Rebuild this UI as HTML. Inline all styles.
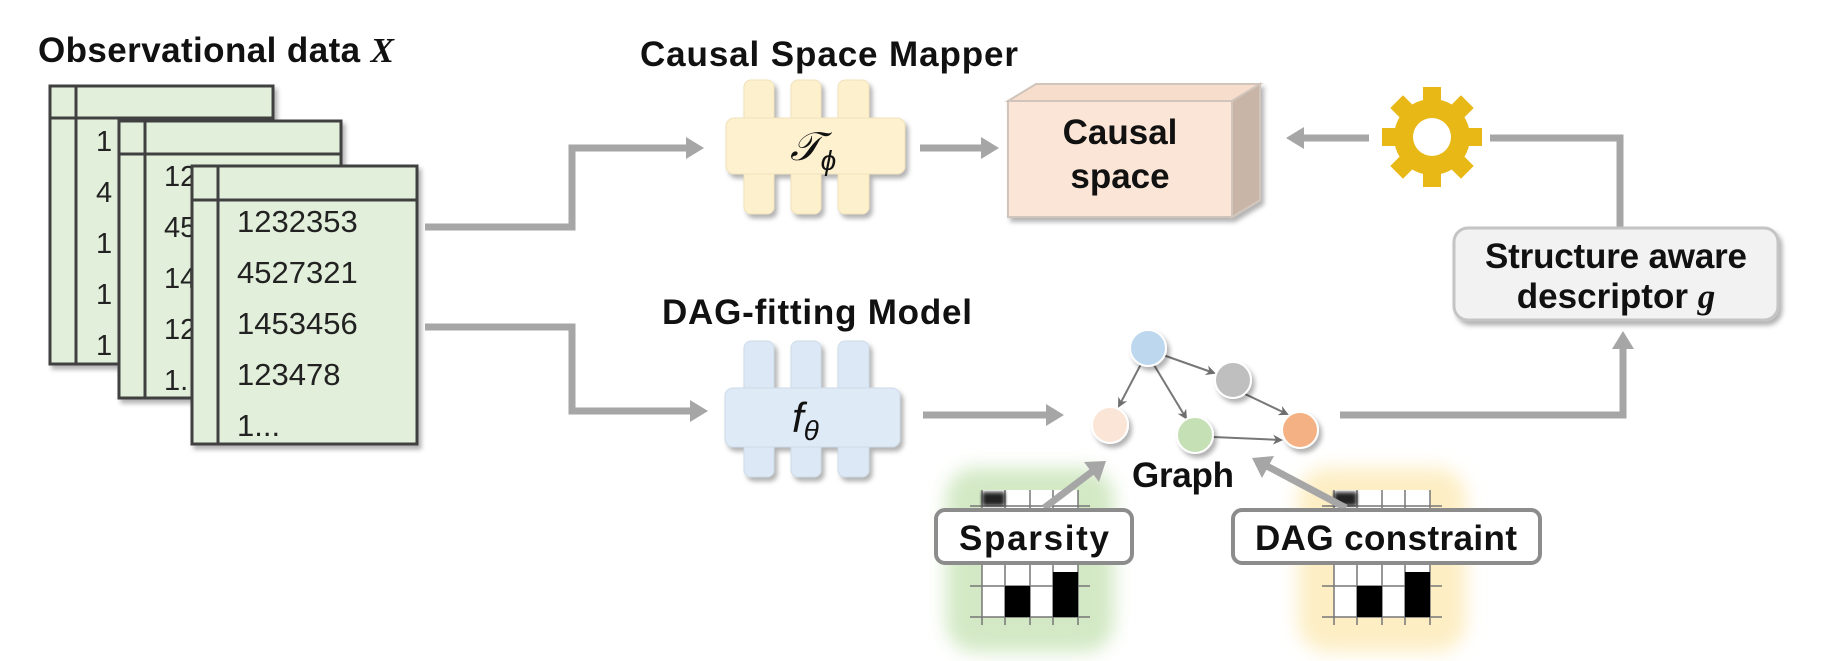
<!DOCTYPE html>
<html><head><meta charset="utf-8"><style>
html,body{margin:0;padding:0;background:#fff;width:1843px;height:661px;overflow:hidden}
svg text{font-family:"Liberation Sans",Arial,sans-serif}
</style></head><body>
<svg width="1843" height="661" viewBox="0 0 1843 661" xmlns="http://www.w3.org/2000/svg">
<defs>
<filter id="sh" x="-10%" y="-10%" width="130%" height="130%"><feDropShadow dx="3" dy="4" stdDeviation="2.5" flood-color="#000" flood-opacity="0.3"/></filter>
<filter id="blur" x="-30%" y="-30%" width="160%" height="160%"><feGaussianBlur stdDeviation="9"/></filter>
<filter id="b2"><feGaussianBlur stdDeviation="2"/></filter>
<marker id="ah" markerWidth="10" markerHeight="10" refX="8" refY="5" orient="auto" markerUnits="userSpaceOnUse"><path d="M0,0 L10,5 L0,10 L3,5 Z" fill="#6e6e6e"/></marker>
</defs>

<!-- Title -->
<text x="38" y="62" font-size="35" font-weight="bold" fill="#111" textLength="356">Observational data <tspan font-family="Liberation Serif" font-style="italic">X</tspan></text>

<!-- Tables -->
<g font-size="29" fill="#222">
<g filter="url(#sh)">
<rect x="50" y="86" width="223" height="278" fill="#e2efda" stroke="#404040" stroke-width="3"/>
</g>
<line x1="50" y1="118" x2="273" y2="118" stroke="#404040" stroke-width="3"/>
<line x1="76" y1="86" x2="76" y2="364" stroke="#404040" stroke-width="3"/>
<text x="96" y="151">1</text><text x="96" y="202">4</text><text x="96" y="253">1</text><text x="96" y="304">1</text><text x="96" y="355">1</text>

<g filter="url(#sh)">
<rect x="119" y="121" width="222" height="277" fill="#e2efda" stroke="#404040" stroke-width="3"/>
</g>
<line x1="119" y1="154" x2="341" y2="154" stroke="#404040" stroke-width="3"/>
<line x1="145" y1="121" x2="145" y2="398" stroke="#404040" stroke-width="3"/>
<text x="164" y="186">12</text><text x="164" y="237">45</text><text x="164" y="288">14</text><text x="164" y="339">12</text><text x="164" y="390">1.</text>

<g filter="url(#sh)">
<rect x="192" y="166" width="225" height="278" fill="#e2efda" stroke="#404040" stroke-width="3"/>
</g>
<line x1="192" y1="200" x2="417" y2="200" stroke="#404040" stroke-width="3"/>
<line x1="218" y1="166" x2="218" y2="444" stroke="#404040" stroke-width="3"/>
<text x="237" y="232" font-size="31">1232353</text><text x="237" y="283" font-size="31">4527321</text><text x="237" y="334" font-size="31">1453456</text><text x="237" y="385" font-size="31">123478</text><text x="237" y="436" font-size="31">1...</text>
</g>

<!-- Matrices (background) -->
<g>
<rect x="946" y="468" width="168" height="184" rx="30" fill="#d3e9c5" filter="url(#blur)"/>
<rect x="1298" y="468" width="168" height="184" rx="30" fill="#fdeec4" filter="url(#blur)"/>
</g>
<g>
<rect x="982" y="490" width="96" height="127" fill="#fff"/>
<g stroke="#777" stroke-width="1.5">
<line x1="970" y1="506" x2="1090" y2="506"/><line x1="970" y1="586" x2="1090" y2="586"/><line x1="970" y1="617" x2="1090" y2="617"/>
<line x1="982" y1="490" x2="982" y2="625"/><line x1="1005" y1="490" x2="1005" y2="625"/><line x1="1030" y1="490" x2="1030" y2="625"/><line x1="1053" y1="490" x2="1053" y2="625"/><line x1="1078" y1="490" x2="1078" y2="625"/>
</g>
<rect x="982" y="492" width="23" height="14" fill="#222" filter="url(#b2)"/>
<rect x="1005" y="586" width="25" height="31" fill="#000"/>
<rect x="1053" y="572" width="25" height="45" fill="#000"/>
</g>
<g transform="translate(352,0)">
<rect x="982" y="490" width="96" height="127" fill="#fff"/>
<g stroke="#777" stroke-width="1.5">
<line x1="970" y1="506" x2="1090" y2="506"/><line x1="970" y1="586" x2="1090" y2="586"/><line x1="970" y1="617" x2="1090" y2="617"/>
<line x1="982" y1="490" x2="982" y2="625"/><line x1="1005" y1="490" x2="1005" y2="625"/><line x1="1030" y1="490" x2="1030" y2="625"/><line x1="1053" y1="490" x2="1053" y2="625"/><line x1="1078" y1="490" x2="1078" y2="625"/>
</g>
<rect x="982" y="492" width="23" height="14" fill="#222" filter="url(#b2)"/>
<rect x="1005" y="586" width="25" height="31" fill="#000"/>
<rect x="1053" y="572" width="25" height="45" fill="#000"/>
</g>

<!-- Arrows -->
<g stroke="#a6a6a6" stroke-width="7" fill="none">
<polyline points="425,227 572,227 572,148 690,148"/>
<polyline points="425,327 572,327 572,411 694,411"/>
<line x1="920" y1="148" x2="985" y2="148"/>
<line x1="923" y1="415" x2="1050" y2="415"/>
<line x1="1369" y1="138" x2="1302" y2="138"/>
<polyline points="1490,138 1620,138 1620,227"/>
<polyline points="1340,415 1623,415 1623,346"/>
<line x1="1044" y1="508" x2="1093" y2="471"/>
<line x1="1346" y1="508" x2="1265" y2="465"/>
</g>
<g fill="#a6a6a6">
<polygon points="704,148 686,137 686,159"/>
<polygon points="708,411 690,400 690,422"/>
<polygon points="999,148 981,137 981,159"/>
<polygon points="1064,415 1046,404 1046,426"/>
<polygon points="1286,138 1304,127 1304,149"/>
<polygon points="1623,331 1612,349 1634,349"/>
<polygon points="1106,461 1084,462 1099,482"/>
<polygon points="1252,458 1274,456 1262,478"/>
</g>

<!-- Causal Space Mapper -->
<text x="640" y="66" font-size="35" font-weight="bold" fill="#111" textLength="378">Causal Space Mapper</text>
<g filter="url(#sh)" fill="#fdf0cc" stroke="#f0e2bb" stroke-width="1">
<rect x="744" y="80" width="30" height="134" rx="7"/>
<rect x="791" y="80" width="30" height="134" rx="7"/>
<rect x="838" y="80" width="31" height="134" rx="7"/>
<rect x="726" y="118" width="179" height="56" rx="8" fill="#fdf1d0"/>
</g>
<text x="790" y="160" font-size="40" font-family="Liberation Serif" font-style="italic" fill="#111">𝒯<tspan font-size="28" dy="10">ϕ</tspan></text>

<!-- DAG-fitting Model -->
<text x="662" y="324" font-size="35" font-weight="bold" fill="#111" textLength="310">DAG-fitting Model</text>
<g filter="url(#sh)" fill="#dce8f5" stroke="#cddbe8" stroke-width="1">
<rect x="744" y="341" width="30" height="136" rx="7"/>
<rect x="791" y="341" width="30" height="136" rx="7"/>
<rect x="838" y="341" width="31" height="136" rx="7"/>
<rect x="725" y="388" width="175" height="59" rx="8" fill="#deeaf6"/>
</g>
<text x="792" y="432" font-size="42" font-family="Liberation Serif" font-style="italic" fill="#111">f<tspan font-size="28" dy="8">θ</tspan></text>

<!-- Causal space cube -->
<g filter="url(#sh)">
<polygon points="1008,101 1036,84 1260,84 1232,101" fill="#f6ddcc" stroke="#d0c4bb" stroke-width="2"/>
<polygon points="1232,101 1260,84 1260,200 1232,217" fill="#c8b5a7" stroke="#d0c4bb" stroke-width="2"/>
<rect x="1008" y="101" width="224" height="116" fill="#fbe5d6" stroke="#d0c4bb" stroke-width="2"/>
</g>
<text x="1120" y="144" font-size="35" font-weight="bold" text-anchor="middle" fill="#111">Causal</text>
<text x="1120" y="188" font-size="35" font-weight="bold" text-anchor="middle" fill="#111">space</text>

<!-- Gear -->
<g transform="translate(1432,137)" fill="#e8b816">
<circle r="38"/>
<g>
<rect x="-9" y="-50" width="18" height="20"/>
<rect x="-9" y="-50" width="18" height="20" transform="rotate(45)"/>
<rect x="-9" y="-50" width="18" height="20" transform="rotate(90)"/>
<rect x="-9" y="-50" width="18" height="20" transform="rotate(135)"/>
<rect x="-9" y="-50" width="18" height="20" transform="rotate(180)"/>
<rect x="-9" y="-50" width="18" height="20" transform="rotate(225)"/>
<rect x="-9" y="-50" width="18" height="20" transform="rotate(270)"/>
<rect x="-9" y="-50" width="18" height="20" transform="rotate(315)"/>
</g>
<circle r="19" fill="#fff"/>
</g>

<!-- Descriptor -->
<rect x="1454" y="228" width="324" height="92" rx="14" fill="#f2f2f2" stroke="#c4c4c4" stroke-width="3" filter="url(#sh)"/>
<text x="1616" y="268" font-size="35" font-weight="bold" text-anchor="middle" fill="#111" textLength="262">Structure aware</text>
<text x="1616" y="308" font-size="35" font-weight="bold" text-anchor="middle" fill="#111">descriptor <tspan font-family="Liberation Serif" font-style="italic">g</tspan></text>

<!-- Graph -->
<g stroke="#777" stroke-width="2" marker-end="url(#ah)">
<line x1="1163" y1="355" x2="1214" y2="373"/>
<line x1="1141" y1="364" x2="1119" y2="406"/>
<line x1="1154" y1="365" x2="1186" y2="418"/>
<line x1="1245" y1="394" x2="1287" y2="414"/>
<line x1="1213" y1="437" x2="1281" y2="440"/>
</g>
<g stroke="#fff" stroke-width="2" filter="url(#sh)">
<circle cx="1148" cy="348" r="18" fill="#bdd7ee"/>
<circle cx="1233" cy="380" r="18" fill="#bfbfbf"/>
<circle cx="1110" cy="425" r="18" fill="#fbe5d6"/>
<circle cx="1195" cy="435" r="18" fill="#c5e0b4"/>
<circle cx="1300" cy="430" r="18" fill="#f4b183"/>
</g>
<text x="1132" y="487" font-size="35" font-weight="bold" fill="#111" textLength="102">Graph</text>

<!-- Constraint labels -->
<rect x="936" y="510" width="196" height="53" rx="9" fill="#fff" stroke="#8c8c8c" stroke-width="4"/>
<text x="1034" y="550" font-size="35" font-weight="bold" text-anchor="middle" fill="#111" textLength="150">Sparsity</text>
<rect x="1233" y="510" width="307" height="53" rx="9" fill="#fff" stroke="#8c8c8c" stroke-width="4"/>
<text x="1386" y="550" font-size="35" font-weight="bold" text-anchor="middle" fill="#111" textLength="262">DAG constraint</text>
</svg>
</body></html>
